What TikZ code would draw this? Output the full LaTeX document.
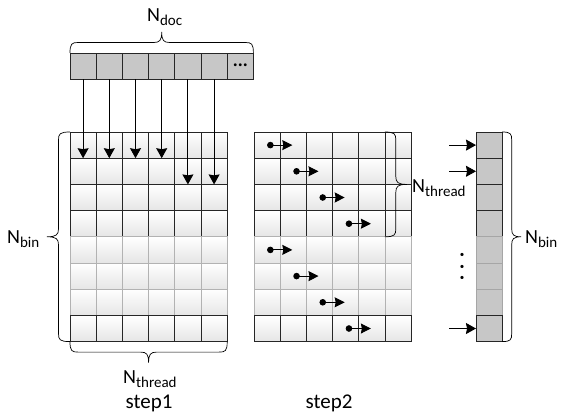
\documentclass[tikz,border=0pt]{standalone}
\usepackage{fontspec}
\setmainfont{Carlito}
\usetikzlibrary{arrows.meta,calc}

% N with a lowered, smaller subscript
\newcommand{\Nsub}[1]{N\raisebox{-0.22em}{\fontsize{15}{15}\selectfont #1}}

% curly braces with tight curls
% horizontal: from x=#1 to x=#2 on base line y=#3, tip offset #4 (signed)
\newcommand{\hbrace}[4]{%
  \pgfmathsetmacro\bm{(#1+#2)/2}%
  \draw[bline] (#1,#3)
    .. controls (#1,{#3+0.45*#4}) and ({#1+2},{#3+0.5*#4}) .. ({#1+8},{#3+0.5*#4})
    -- ({\bm-8},{#3+0.5*#4})
    .. controls ({\bm-2},{#3+0.5*#4}) and (\bm,{#3+0.6*#4}) .. (\bm,{#3+#4})
    .. controls (\bm,{#3+0.6*#4}) and ({\bm+2},{#3+0.5*#4}) .. ({\bm+8},{#3+0.5*#4})
    -- ({#2-8},{#3+0.5*#4})
    .. controls ({#2-2},{#3+0.5*#4}) and (#2,{#3+0.45*#4}) .. (#2,#3);}
% vertical: from y=#1 to y=#2 on base line x=#3, tip offset #4 (signed)
\newcommand{\vbrace}[4]{%
  \pgfmathsetmacro\bm{(#1+#2)/2}%
  \draw[bline] (#3,#1)
    .. controls ({#3+0.45*#4},#1) and ({#3+0.5*#4},{#1+2}) .. ({#3+0.5*#4},{#1+8})
    -- ({#3+0.5*#4},{\bm-8})
    .. controls ({#3+0.5*#4},{\bm-2}) and ({#3+0.6*#4},\bm) .. ({#3+#4},\bm)
    .. controls ({#3+0.6*#4},\bm) and ({#3+0.5*#4},{\bm+2}) .. ({#3+0.5*#4},{\bm+8})
    -- ({#3+0.5*#4},{#2-8})
    .. controls ({#3+0.5*#4},{#2-2}) and ({#3+0.45*#4},#2) .. (#3,#2);}

\begin{document}
\begin{tikzpicture}[x=1pt,y=-1pt,
  font=\fontsize{20}{24}\selectfont,
  cell/.style={draw=black!85, line width=0.7pt, minimum size=26.2pt,
    inner sep=0pt, outer sep=0pt, top color=white, bottom color=black!10},
  lightcell/.style={cell, draw=black!30},
  bincell/.style={draw=black!85, line width=0.7pt, minimum size=26.2pt,
    inner sep=0pt, outer sep=0pt, fill=black!22},
  lightbin/.style={bincell, draw=black!35},
  arr/.style={-{Stealth[width=11pt,length=10pt,inset=1pt]}, line width=0.9pt},
  dotarr/.style={{Circle[length=6.5pt]}-{Stealth[width=10pt,length=10pt,inset=1pt]}, line width=0.9pt},
  bline/.style={line width=0.7pt},
  lbl/.style={inner sep=0pt, anchor=base west}
]
\useasboundingbox (0,0) rectangle (563,418);

\def\cs{26.2}

% document row on top
\foreach \c in {1,...,7}
  \node[bincell] (d-\c) at ({70+(\c-0.5)*\cs}, {53+0.5*\cs}) {};
\node[inner sep=0pt] (ddots) at (d-7.center)
  {\fontsize{8}{8}\selectfont\textbullet\hspace{1pt}\textbullet\hspace{1pt}\textbullet};

% step 1 grid (left) and step 2 grid (middle)
\foreach \r/\s in {1/cell,2/cell,3/cell,4/cell,5/lightcell,6/lightcell,7/lightcell,8/cell}
  \foreach \c in {1,...,6} {
    \node[\s] (g-\r-\c) at ({70+(\c-0.5)*\cs}, {132+(\r-0.5)*\cs}) {};
    \node[\s] (m-\r-\c) at ({254+(\c-0.5)*\cs}, {132+(\r-0.5)*\cs}) {};
  }

% bin column (right)
\foreach \r/\s in {1/bincell,2/bincell,3/bincell,4/bincell,5/lightbin,6/lightbin,7/lightbin,8/bincell}
  \node[\s] (b-\r) at ({476+0.5*\cs}, {132+(\r-0.5)*\cs}) {};

% step 1: documents fall into the bins
\foreach \c in {1,...,4}
  \draw[arr] (d-\c.south) -- (g-1-\c.south);
\foreach \c in {5,6}
  \draw[arr] (d-\c.south) -- (g-2-\c.south);

% step 2: diagonal sweep of the threads
\foreach \r/\c/\n in {1/1/2,2/2/3,3/3/4,4/4/5,5/1/2,6/2/3,7/3/4,8/4/5}
  \draw[dotarr] ([xshift=0pt]m-\r-\c.center) -- ([xshift=-1pt]m-\r-\n.center);

% merged results into the bin column
\foreach \r in {1,2,8} {
  \coordinate (in-\r) at ($(b-\r.west)+(-27,0)$);
  \draw[arr] (in-\r) -- (b-\r.west);
}
\node[inner sep=0pt, align=center, font=\fontsize{9}{11.5}\selectfont] (bdots) at (462,267)
  {\textbullet\\\textbullet\\\textbullet};

% braces
\hbrace{70}{253.4}{53}{-21}
\vbrace{132}{341.6}{70}{-23}
\hbrace{70}{227.2}{341.6}{21}
\vbrace{132}{236.8}{384.8}{22}
\vbrace{132}{341.6}{502.2}{19}

% labels
\node[lbl] (ndoc) at (147,21) {\Nsub{doc}};
\node[lbl] (nbinl) at (7,243) {\Nsub{bin}};
\node[lbl] (nthm) at (412,192) {\Nsub{thread}};
\node[lbl] (nbinr) at (525,243) {\Nsub{bin}};
\node[lbl] (nthb) at (123,383) {\Nsub{thread}};
\node[inner sep=0pt, anchor=base, font=\fontsize{21}{24}\selectfont] (s1) at (149,408) {step1};
\node[inner sep=0pt, anchor=base, font=\fontsize{21}{24}\selectfont] (s2) at (329,408) {step2};
\end{tikzpicture}
\end{document}
